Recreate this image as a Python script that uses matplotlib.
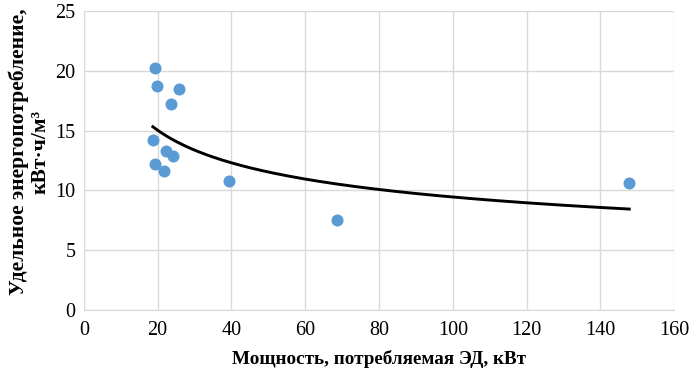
import matplotlib.pyplot as plt
import numpy as np

# Мощность, потребляемая ЭД, кВт
power_kw = [19.3, 19.8, 25.8, 23.6, 18.7, 22.2, 24.1, 19.3, 21.7, 39.3, 68.6, 147.8]
# Удельное энергопотребление, кВт·ч/м³
energy = [20.2, 18.75, 18.5, 17.2, 14.2, 13.3, 12.9, 12.2, 11.6, 10.8, 7.5, 10.6]

x_ticks = list(range(0, 161, 20))
y_ticks = list(range(0, 26, 5))

plt.rcParams['font.family'] = ['Liberation Serif', 'DejaVu Serif']


def plot():
    fig = plt.figure(figsize=(6.93, 3.75), dpi=100)
    ax = fig.add_axes([0.121, 0.173, 0.852, 0.798])

    x = np.asarray(power_kw)
    y = np.asarray(energy)
    ax.scatter(x, y, s=75, color='#5B9BD5', zorder=3, linewidths=0)

    # степенная линия тренда (как в Excel: МНК по логарифмам)
    b, ln_a = np.polyfit(np.log(x), np.log(y), 1)
    xt = np.linspace(x.min(), x.max(), 200)
    ax.plot(xt, np.exp(ln_a) * xt ** b, color='black', lw=2.1, zorder=2)

    ax.set_xlim(0, 160)
    ax.set_ylim(0, 25)
    ax.set_xticks(x_ticks)
    ax.set_yticks(y_ticks)
    ax.tick_params(length=0, labelsize=14.5, colors='#000000')
    ax.tick_params(axis='x', pad=8)
    ax.tick_params(axis='y', pad=6)
    ax.grid(True, color='#D9D9D9', lw=1)
    ax.set_axisbelow(True)
    for s in ax.spines.values():
        s.set_visible(False)
    ax.spines['bottom'].set_visible(True)
    ax.spines['bottom'].set_color('#D9D9D9')

    ax.set_xlabel('Мощность, потребляемая ЭД, кВт', fontsize=13.8,
                  fontweight='bold', labelpad=7)
    ax.set_ylabel('Удельное энергопотребление,\nкВт·ч/м³', fontsize=15.5,
                  fontweight='bold', linespacing=1.05)
    ax.yaxis.set_label_coords(-0.057, 0.53)

    fig.savefig('out.png', dpi=100)


plot()
